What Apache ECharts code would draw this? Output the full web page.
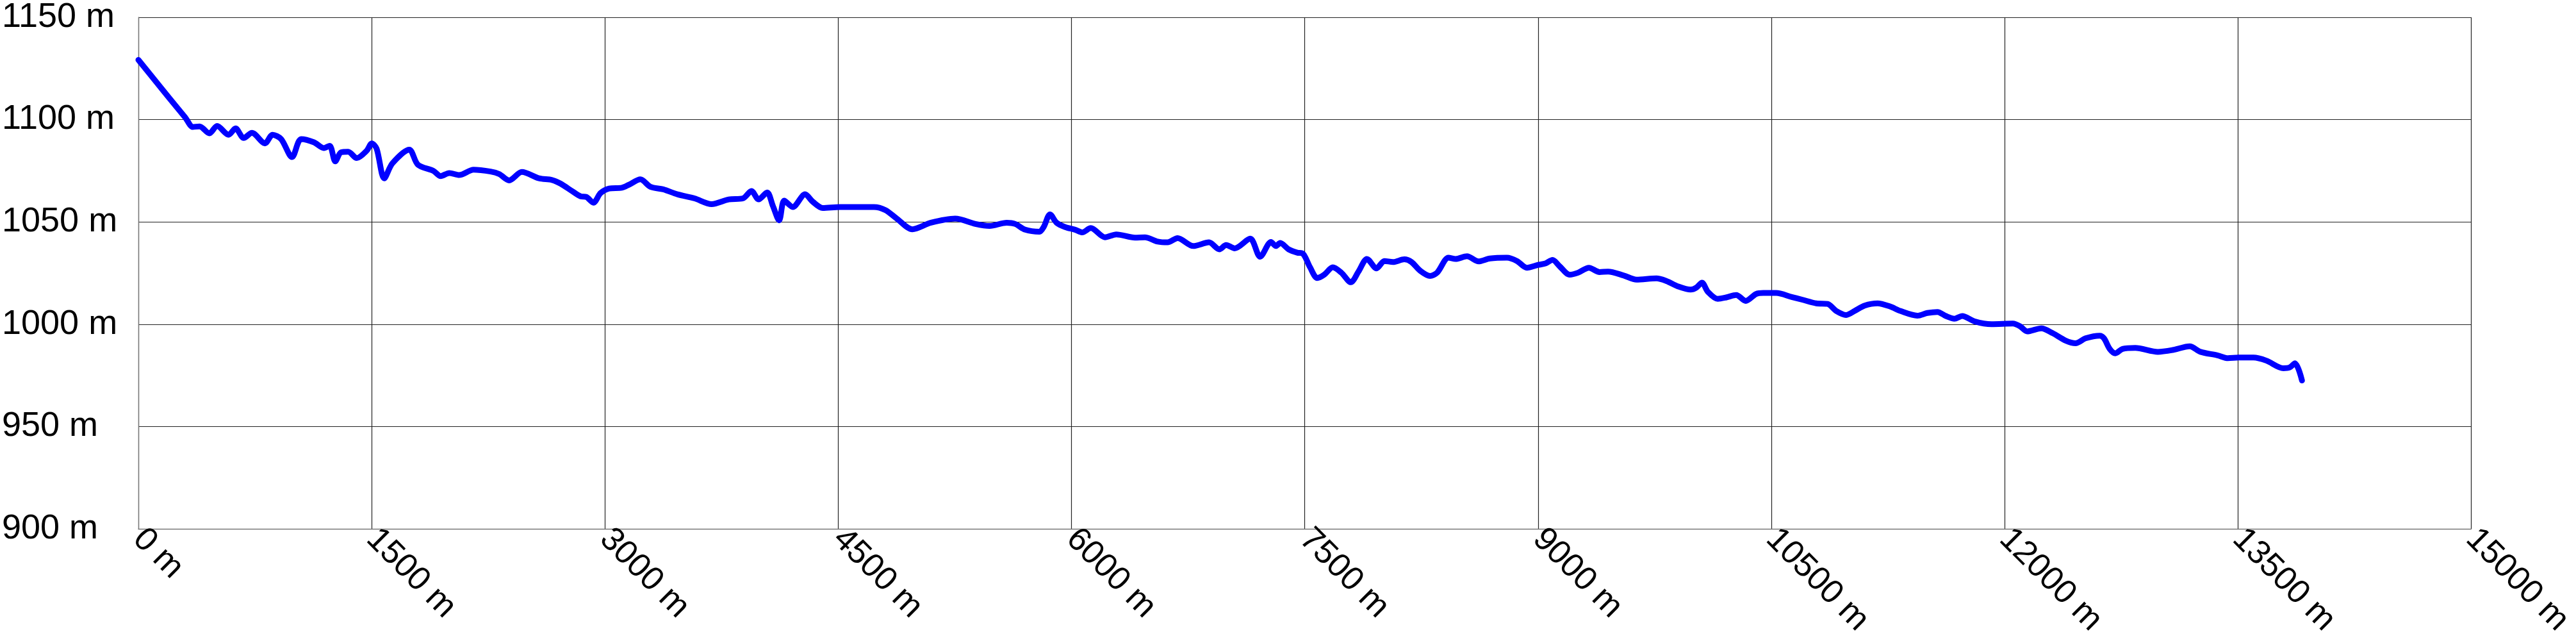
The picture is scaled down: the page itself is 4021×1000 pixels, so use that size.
<!DOCTYPE html>
<html>
<head>
<meta charset="utf-8">
<script src="https://cdn.jsdelivr.net/npm/echarts@6/dist/echarts.min.js"></script>
<style>
html,body{margin:0;padding:0;background:#fff;}
#chart{width:4021px;height:1000px;}
</style>
</head>
<body>
<div id="chart"></div>
<script>
// Distance along route (m)
var distances = [0,100,200,300,351,393,457,506,580,625,677,730,814,863,918,988,1047,1129,1193,1230,1266,1303,1349,1404,1468,1501,1532,1581,1633,1742,1797,1898,1944,1999,2063,2155,2265,2320,2384,2466,2576,
2660,2715,2788,2843,2880,2926,2972,3027,3109,3155,3228,3292,3375,3466,3576,3686,3796,3887,3942,3988,4043,4080,4120,4153,4208,4287,4336,4400,4510,4730,4803,4877,4977,5096,5252,
5382,5473,5583,5638,5702,5794,5821,5862,5904,5959,6023,6069,6124,6215,6288,6408,6472,6554,6618,6682,6783,6884,6951,6994,7049,7149,7213,7283,7314,7342,7396,7451,7488,7534,7580,7625,7680,7735,7796,7845,7900,
7961,8012,8067,8140,8186,8241,8305,8351,8424,8470,8543,8617,8690,8800,8864,8928,9001,9047,9093,9139,9203,9258,9327,9395,9450,9551,9633,9761,9826,9899,9981,10018,10054,10091,10155,10210,10274,10335,10402,10448,10531,10631,
10698,10789,10862,10917,10981,11036,11100,11183,11265,11329,11439,11503,11568,11622,11677,11727,11806,11916,12053,12099,12145,12236,12309,12392,12456,12520,12611,12639,12676,12712,12758,12840,
12985,13081,13190,13259,13368,13436,13505,13600,13683,13792,13833,13867,13912];
// Elevation (m)
var elevations = [1129.2,1119.8,1110.4,1101.2,1096.4,1096.7,1093.3,1096.9,1092.6,1095.7,1091.0,1093.5,1088.4,1092.6,1090.5,1081.7,1090.5,1088.9,1086.1,1087.2,1079.6,1084.0,1084.3,1081.2,1084.8,1088.4,1085.8,1071.3,1078.6,1085.3,1078.0,1074.9,1072.4,1073.9,1072.9,1075.5,1074.6,1073.4,1070.3,1074.4,1071.3,
1070.5,1068.7,1065.1,1062.5,1062.2,1059.4,1064.1,1066.3,1066.7,1068.2,1070.8,1067.2,1065.9,1063.5,1061.5,1058.7,1061.0,1061.5,1065.1,1061.0,1064.4,1057.8,1050.8,1060.4,1057.3,1063.5,1059.9,1056.8,1057.3,1057.3,1055.8,1051.6,1046.4,1049.6,1051.6,
1049.0,1048.0,1049.6,1049.0,1046.2,1045.2,1047.5,1053.7,1049.6,1047.5,1046.2,1044.9,1047.0,1042.5,1043.9,1042.3,1042.5,1040.4,1040.0,1042.1,1038.2,1040.0,1036.6,1038.7,1037.1,1041.8,1033.0,1040.2,1038.2,1039.7,1036.6,1035.0,1034.5,1027.8,1022.6,1024.2,1027.8,1025.2,1020.5,1025.7,1031.9,
1027.3,1030.9,1030.4,1031.7,1030.4,1026.2,1023.6,1025.2,1032.5,1031.9,1033.2,1030.7,1032.1,1032.5,1030.9,1027.6,1029.0,1029.7,1031.4,1028.3,1024.2,1025.2,1027.6,1025.5,1025.7,1023.8,1021.8,1022.4,1021.1,1018.5,1016.9,1017.9,1020.3,1015.9,1012.4,1013.1,1014.3,1011.4,1014.8,1015.3,1015.3,1013.3,
1012.0,1010.2,1009.9,1006.5,1004.5,1006.5,1009.1,1010.2,1008.6,1006.5,1004.2,1005.5,1006.0,1004.0,1002.7,1004.0,1001.4,1000.0,1000.3,999.0,996.5,998.0,995.6,992.0,990.7,993.1,994.4,993.1,987.9,985.8,987.9,988.4,
986.5,987.4,989.2,986.5,984.8,983.4,983.7,983.7,982.2,978.5,978.9,980.9,972.5];
// Axis ticks
var xTicks = {min: 0, max: 15000, step: 1500};
var yTicks = {min: 900, max: 1150, step: 50};
var unit = ' m';

var points = distances.map(function(d, i){ return [d, elevations[i]]; });
var font = '"Liberation Sans", Arial, Helvetica, sans-serif';
var chart = echarts.init(document.getElementById('chart'), null, {renderer: 'canvas'});
chart.setOption({
  animation: false,
  backgroundColor: '#ffffff',
  grid: {left: 215, right: 150, top: 20, height: 805, containLabel: false},
  xAxis: {
    type: 'value', min: xTicks.min, max: xTicks.max, interval: xTicks.step,
    axisLine: {show: true, lineStyle: {color: '#777', width: 1.3}},
    axisTick: {show: false},
    splitLine: {show: true, lineStyle: {color: '#222', width: 1.2}},
    axisLabel: {
      rotate: -45, margin: 8, fontSize: 52, color: '#000', fontFamily: font,
      showMinLabel: true, showMaxLabel: true, hideOverlap: false,
      formatter: function(v){ return v + unit; }
    }
  },
  yAxis: {
    type: 'value', min: yTicks.min, max: yTicks.max, interval: yTicks.step,
    axisLine: {show: true, lineStyle: {color: '#777', width: 1.3}},
    axisTick: {show: false},
    splitLine: {show: true, lineStyle: {color: '#222', width: 1.2}},
    axisLabel: {
      align: 'left', margin: 213, fontSize: 54, color: '#000', fontFamily: font,
      padding: [6, 0, 0, 0],
      showMinLabel: true, showMaxLabel: true,
      formatter: function(v){ return v + unit; }
    }
  },
  series: [{
    type: 'line',
    data: points,
    symbol: 'none',
    smooth: 0.3,
    clip: false,
    lineStyle: {color: '#0000ff', width: 9, cap: 'round', join: 'round'}
  }]
});
</script>
</body>
</html>
